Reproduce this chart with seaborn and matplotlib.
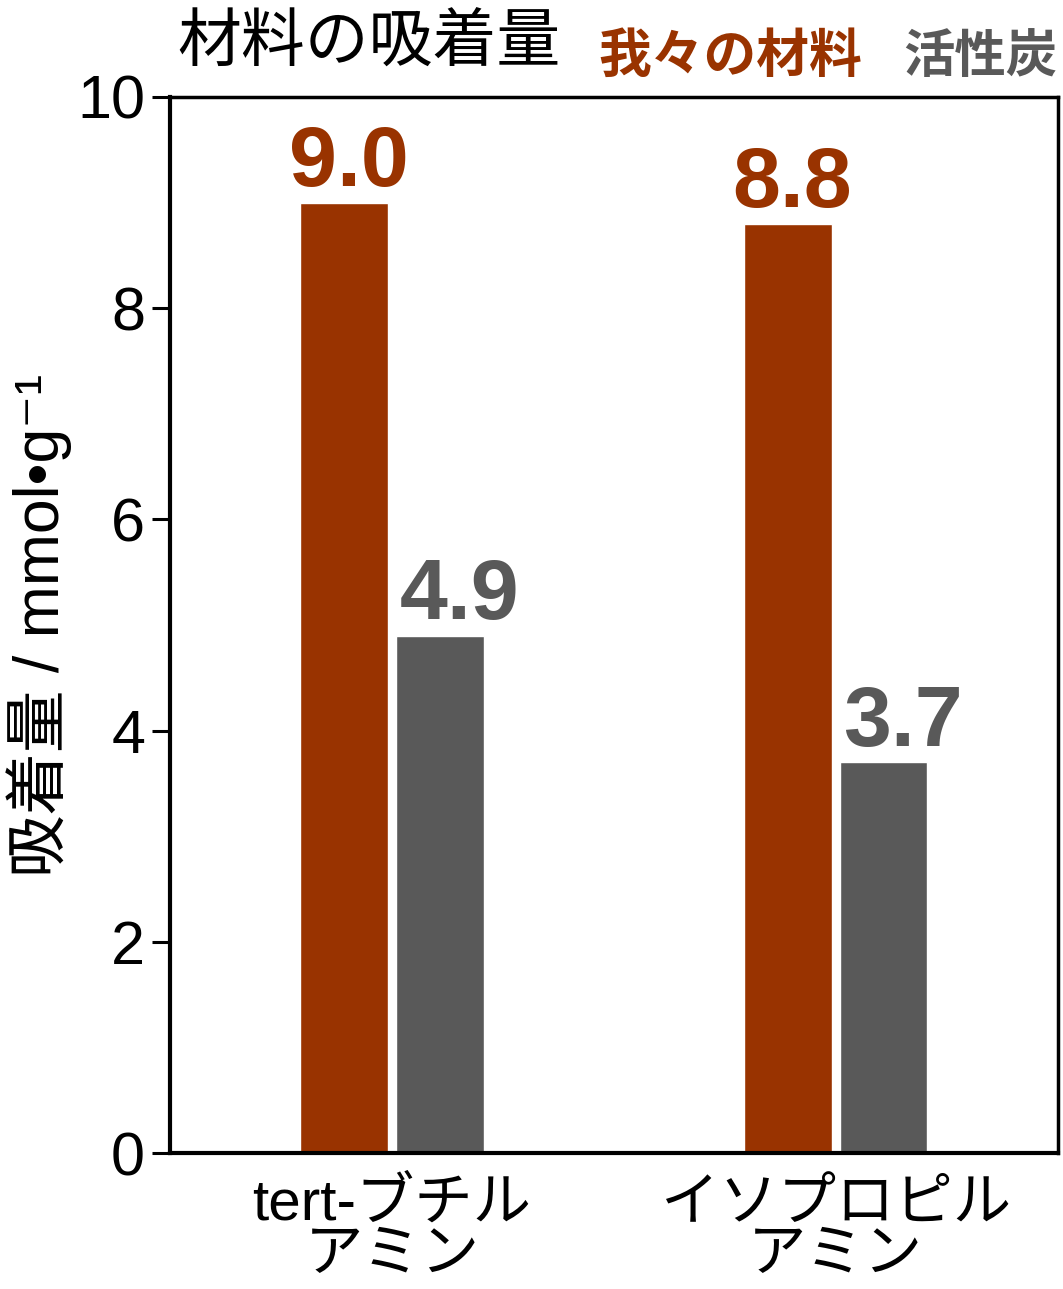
import pandas as pd
import seaborn as sns
import matplotlib.pyplot as plt

# data
amines = ["tert-ブチル\nアミン", "イソプロピル\nアミン"]
materials = ["我々の材料", "活性炭"]
ours = [9.0, 8.8]
carbon = [4.9, 3.7]
colors = ["#993300", "#595959"]
y_ticks = [0, 2, 4, 6, 8, 10]

sns.set_theme(style="white")
plt.rcParams['font.family'] = ['Liberation Sans', 'Noto Sans CJK JP', 'DejaVu Sans']
for key in ["text.color", "axes.labelcolor", "xtick.color", "ytick.color"]:
    plt.rcParams[key] = "black"

df = pd.DataFrame({
    "amine": amines * 2,
    "material": [materials[0]] * 2 + [materials[1]] * 2,
    "value": ours + carbon,
})

fig = plt.figure(figsize=(10.63, 12.89), dpi=100)
ax = fig.add_axes([0.16, 0.1055, 0.835, 0.8193])

sns.barplot(data=df, x="amine", y="value", hue="material", palette=colors,
            saturation=1, width=0.43, gap=0.08, ax=ax, legend=False,
            errorbar=None)

# value labels; the grey ones sit a little right of their bars in the original
shifts = [3, 14]  # points
for cont, col, dx in zip(ax.containers, colors, shifts):
    labels = ax.bar_label(cont, fmt="%.1f", padding=-1, color=col, fontsize=62,
                          fontweight="bold")
    for t in labels:
        x0, y0 = t.xyann
        t.xyann = (x0 + dx, y0)

ax.set_xlim(-0.5, 1.5)
ax.set_ylim(0, 10)
ax.set_yticks(y_ticks)
ax.set_yticklabels([str(t) for t in y_ticks], fontsize=44)
ax.set_xticklabels(amines, fontsize=42, linespacing=0.92)
ax.tick_params(axis="y", left=True, length=13, width=2.2, pad=5)
ax.tick_params(axis="x", bottom=False, pad=12)
ax.set_xlabel("")
ax.set_ylabel("吸着量 / mmol•g⁻¹", fontsize=45, labelpad=4)

for side in ["left", "bottom"]:
    ax.spines[side].set_linewidth(3)
for side in ["top", "right"]:
    ax.spines[side].set_linewidth(2.5)
for s in ax.spines.values():
    s.set_color("black")

fig.text(0.167, 0.965, "材料の吸着量", fontsize=46, va="center")
fig.text(0.563, 0.955, materials[0], fontsize=38, color=colors[0],
         fontweight="bold", va="center")
fig.text(0.850, 0.955, materials[1], fontsize=37, color=colors[1],
         fontweight="bold", va="center")

fig.savefig("out.png", dpi=100)
